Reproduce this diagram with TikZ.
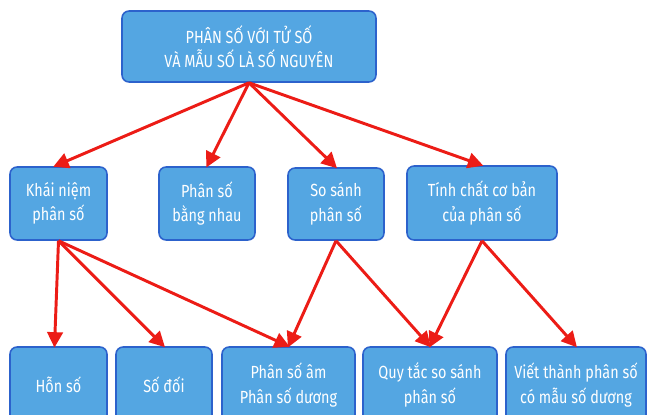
\documentclass[tikz,border=0pt]{standalone}
\usepackage{fontspec}
\setmainfont{Fira Sans}[FakeStretch=0.82]
\usetikzlibrary{arrows.meta}

\definecolor{boxfill}{RGB}{84,166,226}
\definecolor{boxline}{RGB}{44,98,204}
\definecolor{arrred}{RGB}{236,28,22}

\tikzset{
  topic/.style={draw=boxline, fill=boxfill, line width=1.1pt, rounded corners=5pt,
    text=white, align=center, inner sep=0pt,
    font=\fontsize{12.5}{17.5}\selectfont},
  link/.style={arrred, line width=2.1pt,
    -{Triangle[length=11pt,width=11pt]}, shorten >=-1pt}
}

\begin{document}
\begin{tikzpicture}
  \clip (0,0) rectangle (16.175,-10.35);
  \useasboundingbox (0,0) rectangle (16.175,-10.35);
  % root
  \node[topic, minimum width=6.35cm, minimum height=1.775cm] (root) at (6.225,-1.1625)
    {PHÂN SỐ VỚI TỬ SỐ\\VÀ MẪU SỐ LÀ SỐ NGUYÊN};
  % second row
  \node[topic, minimum width=2.425cm, minimum height=1.825cm] (khainiem) at (1.4625,-5.0875)
    {Khái niệm\\phân số};
  \node[topic, minimum width=2.4cm, minimum height=1.825cm] (bangnhau) at (5.175,-5.0875)
    {Phân số\\bằng nhau};
  \node[topic, minimum width=2.4cm, minimum height=1.8cm] (sosanh) at (8.4,-5.1)
    {So sánh\\phân số};
  \node[topic, minimum width=3.75cm, minimum height=1.85cm] (tinhchat) at (12.05,-5.075)
    {Tính chất cơ bản\\của phân số};
  % third row
  \node[topic, minimum width=2.425cm, minimum height=1.9cm] (honso) at (1.4625,-9.625)
    {Hỗn số};
  \node[topic, minimum width=2.4cm, minimum height=1.9cm] (sodoi) at (4.1,-9.625)
    {Số đối};
  \node[topic, minimum width=3.325cm, minimum height=1.9cm] (amduong) at (7.2125,-9.625)
    {Phân số âm\\Phân số dương};
  \node[topic, minimum width=3.35cm, minimum height=1.9cm] (quytac) at (10.75,-9.625)
    {Quy tắc so sánh\\phân số};
  \node[topic, minimum width=3.5cm, minimum height=1.9cm] (vietthanh) at (14.4,-9.625)
    {Viết thành phân số\\có mẫu số dương};

  % arrows
  \draw[link] (root.south) -- ([xshift=-0.1cm]khainiem.north);
  \draw[link] (root.south) -- (bangnhau.north);
  \draw[link] (root.south) -- (sosanh.north);
  \draw[link] (root.south) -- (tinhchat.north);
  \draw[link] (khainiem.south) -- ([xshift=-0.1cm]honso.north);
  \draw[link] (khainiem.south) -- (sodoi.north);
  \draw[link] (khainiem.south) -- (amduong.north);
  \draw[link] (sosanh.south) -- (amduong.north);
  \draw[link] (sosanh.south) -- (quytac.north);
  \draw[link] (tinhchat.south) -- (quytac.north);
  \draw[link] (tinhchat.south) -- (vietthanh.north);
\end{tikzpicture}
\end{document}
